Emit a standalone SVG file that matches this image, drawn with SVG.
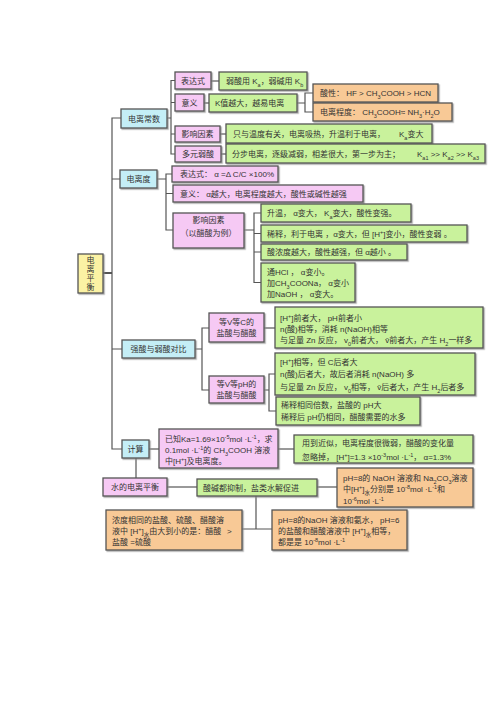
<svg xmlns="http://www.w3.org/2000/svg" width="500" height="708" viewBox="0 0 500 708">
<defs>
<filter id="sh" x="-10%" y="-10%" width="130%" height="140%"><feDropShadow dx="1.2" dy="1.2" stdDeviation="0.6" flood-color="#888" flood-opacity="0.7"/></filter>
<style>
.n rect{stroke:#555;stroke-width:1.3;filter:url(#sh)}
.cy{fill:#c4eef6}.pk{fill:#f6c9f4}.gr{fill:#c9f29c}.or{fill:#f8c996}.yl{fill:#fbf2a4}
text{font-family:"Liberation Sans","Noto Sans CJK SC",sans-serif;font-size:8px;fill:#333}
.c{text-anchor:middle}
.sp{font-size:5.5px;baseline-shift:super}
.sb{font-size:5.5px;baseline-shift:sub}
#conn line,#conn path{stroke:#555;stroke-width:1.2;fill:none}
</style>
</defs>
<rect width="500" height="708" fill="#fff"/>
<g id="conn">
<line x1="103" y1="273" x2="112" y2="273" style="stroke-width:2"/>
<path d="M121 118H112V449H122M112 179H120M112 349H122"/>
<path d="M167 118H171M175 80.5H171V154H175M171 102.5H175M171 134H175"/>
<line x1="211" y1="81" x2="219" y2="81"/>
<line x1="204" y1="103" x2="209" y2="103"/>
<line x1="220" y1="134" x2="226" y2="134"/>
<line x1="221" y1="154" x2="226" y2="154"/>
<path d="M297 103H305M313 93H305V112H313"/>
<path d="M157 179H166M172 174H166V230H173M166 193.5H173"/>
<path d="M244 230H254M261 213H254V282.5H261M254 233.5H261M254 252H261"/>
<path d="M195 349H202M209 328H202V390H209"/>
<line x1="264" y1="328" x2="275" y2="328"/>
<path d="M264 390H269M275 374H269V411H276"/>
<line x1="149" y1="449" x2="159" y2="449"/>
<line x1="136" y1="458" x2="136" y2="478"/>
<line x1="278" y1="449" x2="294" y2="449"/>
<line x1="167" y1="487" x2="197" y2="487"/>
<line x1="317" y1="487" x2="337" y2="487"/>
<path d="M256 496V529M242 529H272"/>
</g>
<g id="n1" class="n"><rect class="yl" x="78" y="254" width="25" height="39"/><text class="c" x="90.5" y="263">电</text><text class="c" x="90.5" y="272">离</text><text class="c" x="90.5" y="281">平</text><text class="c" x="90.5" y="290">衡</text></g>
<g id="n2" class="n"><rect class="cy" x="121" y="109" width="46" height="19"/><text class="c" x="144" y="121.5">电离常数</text></g>
<g id="n3" class="n"><rect class="pk" x="175" y="72" width="36" height="17"/><text class="c" x="193" y="83.5">表达式</text></g>
<g id="n4" class="n"><rect class="gr" x="219" y="72" width="88" height="18"/><text x="226" y="84">弱酸用 K<tspan class="sb">a</tspan>，弱碱用 K<tspan class="sb">b</tspan></text></g>
<g id="n5" class="n"><rect class="pk" x="175" y="94" width="29" height="17"/><text class="c" x="189.5" y="105.5">意义</text></g>
<g id="n6" class="n"><rect class="gr" x="209" y="94" width="88" height="18"/><text x="215" y="106">K值越大，越易电离</text></g>
<g id="n7" class="n"><rect class="or" x="313" y="84" width="125" height="18"/><text x="320" y="95.5">酸性： HF &gt; CH<tspan class="sb">3</tspan>COOH &gt; HCN</text></g>
<g id="n8" class="n"><rect class="or" x="313" y="103" width="139" height="18"/><text x="320" y="114.5">电离程度： CH<tspan class="sb">3</tspan>COOH≈ NH<tspan class="sb">3</tspan>·H<tspan class="sb">2</tspan>O</text></g>
<g id="n9" class="n"><rect class="pk" x="175" y="126" width="45" height="16"/><text class="c" x="197.5" y="137">影响因素</text></g>
<g id="n10" class="n"><rect class="gr" x="226" y="124" width="206" height="19"/><text x="233" y="136.5">只与温度有关，电离吸热，升温利于电离，<tspan x="399">K<tspan class="sb">a</tspan>变大</tspan></text></g>
<g id="n11" class="n"><rect class="pk" x="175" y="146" width="46" height="16"/><text class="c" x="198" y="157">多元弱酸</text></g>
<g id="n12" class="n"><rect class="gr" x="226" y="144" width="259" height="19"/><text x="232" y="156.5">分步电离，逐级减弱，相差很大，第一步为主；<tspan x="417">K<tspan class="sb">a1</tspan> &gt;&gt; K<tspan class="sb">a2</tspan> &gt;&gt; K<tspan class="sb">a3</tspan></tspan></text></g>
<g id="n13" class="n"><rect class="cy" x="120" y="170" width="37" height="18"/><text class="c" x="138.5" y="181.5">电离度</text></g>
<g id="n14" class="n"><rect class="pk" x="172" y="166" width="106" height="16"/><text x="180" y="177">表达式： α =Δ C/C ×100%</text></g>
<g id="n15" class="n"><rect class="pk" x="173" y="185" width="190" height="17"/><text x="180" y="196.5">意义： α越大，电离程度越大，酸性或碱性越强</text></g>
<g id="n16" class="n"><rect class="pk" x="173" y="213" width="71" height="35"/><text class="c" x="208.5" y="222.5">影响因素</text><text class="c" x="208.5" y="235.5">（以醋酸为例）</text></g>
<g id="n17" class="n"><rect class="gr" x="261" y="204" width="150" height="18"/><text x="267" y="215.5">升温， α变大， K<tspan class="sb">a</tspan>变大，酸性变强。</text></g>
<g id="n18" class="n"><rect class="gr" x="261" y="225" width="206" height="17"/><text x="267" y="236.5">稀释，利于电离 ，α变大，但 [H<tspan class="sp">+</tspan>]变小，酸性变弱 。</text></g>
<g id="n19" class="n"><rect class="gr" x="261" y="244" width="146" height="16"/><text x="267" y="254.5">酸浓度越大，酸性越强，但 α越小 。</text></g>
<g id="n20" class="n"><rect class="gr" x="261" y="263" width="94" height="39"/><text x="267" y="275">通HCl ， α变小。</text><text x="267" y="286">加CH<tspan class="sb">3</tspan>COONa， α变小</text><text x="267" y="297">加NaOH ， α变大。</text></g>
<g id="n21" class="n"><rect class="cy" x="122" y="340" width="73" height="18"/><text class="c" x="158.5" y="352">强酸与弱酸对比</text></g>
<g id="n22" class="n"><rect class="pk" x="209" y="313" width="55" height="29"/><text class="c" x="236.5" y="325">等V等C的</text><text class="c" x="236.5" y="336">盐酸与醋酸</text></g>
<g id="n23" class="n"><rect class="pk" x="209" y="376" width="55" height="27"/><text class="c" x="236.5" y="387">等V等pH的</text><text class="c" x="236.5" y="398">盐酸与醋酸</text></g>
<g id="n24" class="n"><rect class="gr" x="275" y="307" width="208" height="41"/><text x="280" y="320.5">[H<tspan class="sp">+</tspan>]前者大， pH前者小</text><text x="280" y="331.5">n(酸)相等，消耗 n(NaOH)相等</text><text x="280" y="343">与足量 Zn 反应， v<tspan class="sb">0</tspan>前者大， v̄前者大，产生 H<tspan class="sb">2</tspan>一样多</text></g>
<g id="n25" class="n"><rect class="gr" x="275" y="353" width="200" height="42"/><text x="280" y="365">[H<tspan class="sp">+</tspan>]相等，但 C后者大</text><text x="280" y="377">n(酸)后者大，故后者消耗 n(NaOH) 多</text><text x="280" y="389.5">与足量 Zn 反应， v<tspan class="sb">0</tspan>相等， v̄后者大，产生 H<tspan class="sb">2</tspan>后者多</text></g>
<g id="n26" class="n"><rect class="gr" x="276" y="397" width="144" height="28"/><text x="281" y="408">稀释相同倍数，盐酸的 pH大</text><text x="281" y="420">稀释后 pH仍相同，醋酸需要的水多</text></g>
<g id="n27" class="n"><rect class="cy" x="122" y="440" width="27" height="18"/><text class="c" x="135.5" y="452">计算</text></g>
<g id="n28" class="n"><rect class="pk" x="159" y="429" width="119" height="39"/><text x="165" y="442">已知Ka=1.69×10<tspan class="sp">-5</tspan>mol ·L<tspan class="sp">-1</tspan>，求</text><text x="165" y="453">0.1mol ·L<tspan class="sp">-1</tspan>的 CH<tspan class="sb">3</tspan>COOH 溶液</text><text x="165" y="464">中[H<tspan class="sp">+</tspan>]及电离度。</text></g>
<g id="n29" class="n"><rect class="gr" x="294" y="435" width="179" height="28"/><text x="302" y="446">用到近似，电离程度很微弱，醋酸的变化量</text><text x="302" y="459.5">忽略掉， [H<tspan class="sp">+</tspan>]=1.3 ×10<tspan class="sp">-3</tspan>mol ·L<tspan class="sp">-1</tspan>， α=1.3%</text></g>
<g id="n30" class="n"><rect class="pk" x="103" y="478" width="64" height="18"/><text class="c" x="135" y="490">水的电离平衡</text></g>
<g id="n31" class="n"><rect class="gr" x="197" y="479" width="120" height="17"/><text x="203" y="490.5">酸碱都抑制，盐类水解促进</text></g>
<g id="n32" class="n"><rect class="or" x="337" y="468" width="136" height="39"/><text x="343" y="481">pH=8的 NaOH 溶液和 Na<tspan class="sb">2</tspan>CO<tspan class="sb">3</tspan>溶液</text><text x="343" y="492">中[H<tspan class="sp">+</tspan>]<tspan class="sb">水</tspan>分别是 10<tspan class="sp">-8</tspan>mol ·L<tspan class="sp">-1</tspan>和</text><text x="343" y="503.5">10<tspan class="sp">-6</tspan>mol ·L<tspan class="sp">-1</tspan></text></g>
<g id="n33" class="n"><rect class="or" x="106" y="510" width="136" height="40"/><text x="112" y="523">浓度相同的盐酸、硫酸、醋酸溶</text><text x="112" y="534">液中 [H<tspan class="sp">+</tspan>]<tspan class="sb">水</tspan>由大到小的是：醋酸 <tspan x="227">&gt;</tspan></text><text x="112" y="545">盐酸 =硫酸</text></g>
<g id="n34" class="n"><rect class="or" x="272" y="510" width="135" height="40"/><text x="278" y="523">pH=8的NaOH 溶液和氨水， pH=6</text><text x="278" y="534">的盐酸和醋酸溶液中 [H<tspan class="sp">+</tspan>]<tspan class="sb">水</tspan>相等，</text><text x="278" y="545">都是是 10<tspan class="sp">-8</tspan>mol ·L<tspan class="sp">-1</tspan></text></g>
</svg>
